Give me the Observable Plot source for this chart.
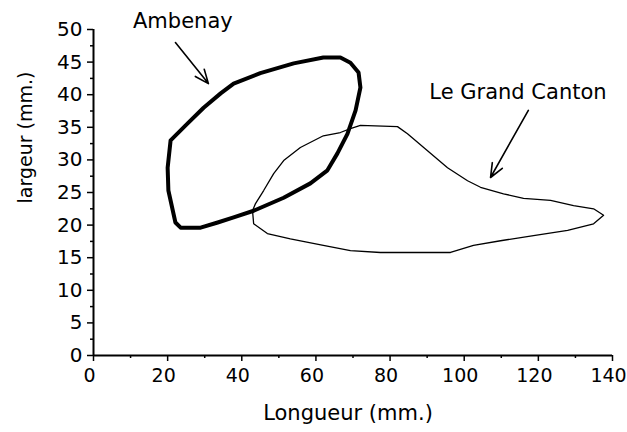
<!DOCTYPE html>
<html>
<head>
<meta charset="utf-8">
<script src="https://cdn.jsdelivr.net/npm/d3@7"></script>
<script src="https://cdn.jsdelivr.net/npm/@observablehq/plot@0.6"></script>
<style>
  html, body { margin: 0; padding: 0; background: #fff; }
</style>
</head>
<body>
<div id="chart"></div>
<script>
// Ambenay outline (Longueur, largeur in mm)
const ambenayX = [20.8, 20.0, 20.2, 22.1, 23.5, 28.9, 33.5, 37.8, 43.2, 51.3, 58.5, 63.1, 65.8, 68.5, 70.7, 72.0, 71.5, 69.3, 66.6, 62.0, 54.0, 45.0, 37.8, 34.3, 29.7, 25.4];
const ambenayY = [33.0, 28.8, 25.3, 20.4, 19.6, 19.6, 20.4, 21.2, 22.2, 24.2, 26.4, 28.4, 31.0, 34.0, 37.6, 41.1, 43.4, 44.9, 45.7, 45.7, 44.8, 43.3, 41.7, 40.2, 38.0, 35.6];

// Le Grand Canton outline
const cantonX = [42.9, 43.2, 46.9, 53.1, 62.0, 69.3, 77.4, 96.3, 102.5, 109.8, 118.7, 127.9, 134.9, 137.6, 134.9, 129.5, 123.3, 116.0, 110.6, 104.4, 100.9, 95.5, 90.1, 84.7, 82.0, 72.0, 69.3, 66.6, 62.0, 55.8, 51.3, 48.6, 45.9, 43.7];
const cantonY = [22.2, 20.2, 18.7, 17.9, 16.9, 16.1, 15.8, 15.8, 16.9, 17.6, 18.4, 19.2, 20.2, 21.5, 22.5, 23.0, 23.8, 24.1, 24.8, 25.8, 26.8, 28.8, 31.4, 34.0, 35.1, 35.3, 34.8, 34.2, 33.7, 31.9, 29.9, 27.9, 25.3, 23.3];

// Annotations
const labelNames = ["Ambenay", "Le Grand Canton"];
const labelX = [24.1, 114.5];
const labelY = [51.3, 40.4];
const arrowX1 = [22.1, 117.3];
const arrowY1 = [48.0, 37.6];
const arrowX2 = [31.0, 107.1];
const arrowY2 = [41.7, 27.3];

// Ticks
const xMajorTicks = [0, 20, 40, 60, 80, 100, 120, 140];
const xMinorTicks = [10, 30, 50, 70, 90, 110, 130];
const yMajorTicks = [0, 5, 10, 15, 20, 25, 30, 35, 40, 45, 50];
const yMinorTicks = [2.5, 7.5, 12.5, 17.5, 22.5, 27.5, 32.5, 37.5, 42.5, 47.5];

const xLabel = "Longueur (mm.)";
const yLabel = "largeur (mm.)";

const ambenay = ambenayX.map((x, i) => ({x, y: ambenayY[i]}));
const canton = cantonX.map((x, i) => ({x, y: cantonY[i]}));
const labels = labelNames.map((name, i) => ({name, x: labelX[i], y: labelY[i]}));
const arrows = arrowX1.map((x1, i) => ({x1, y1: arrowY1[i], x2: arrowX2[i], y2: arrowY2[i]}));

const font = "DejaVu Sans, sans-serif";

const chart = Plot.plot({
  width: 627,
  height: 432,
  marginLeft: 93,
  marginRight: 15,
  marginTop: 29,
  marginBottom: 77,
  style: {fontFamily: font, fontSize: "20px", color: "#000", background: "#fff", overflow: "visible"},
  x: {domain: [0, 140]},
  y: {domain: [0, 50]},
  marks: [
    Plot.axisX({ticks: xMinorTicks, tickSize: 3, tickFormat: () => "", strokeWidth: 1.5}),
    Plot.axisX({ticks: xMajorTicks, tickSize: 6, tickFormat: () => "", strokeWidth: 1.5}),
    Plot.axisX({ticks: xMajorTicks, tickSize: 0, tickPadding: 13, tickFormat: d => String(d), fontSize: 19, dx: -4, label: null}),
    Plot.axisY({ticks: yMinorTicks, tickSize: 3, tickFormat: () => "", strokeWidth: 1.5}),
    Plot.axisY({ticks: yMajorTicks, tickSize: 6, tickPadding: 5, tickFormat: d => String(d), strokeWidth: 1.5, fontSize: 20, label: null}),
    Plot.ruleX([0], {stroke: "#000", strokeWidth: 2}),
    Plot.ruleY([0], {stroke: "#000", strokeWidth: 2}),
    Plot.line(canton, {x: "x", y: "y", curve: "linear-closed", stroke: "#000", strokeWidth: 1.3}),
    Plot.line(ambenay, {x: "x", y: "y", curve: "linear-closed", stroke: "#000", strokeWidth: 4, strokeLinejoin: "round"}),
    Plot.arrow(arrows, {x1: "x1", y1: "y1", x2: "x2", y2: "y2", stroke: "#000", strokeWidth: 1.6, headLength: 14, headAngle: 45}),
    Plot.text(labels, {x: "x", y: "y", text: "name", fontSize: 21, fontFamily: font, fill: "#000"}),
    Plot.text([xLabel], {frameAnchor: "bottom", dx: -5, dy: 64, fontSize: 21, fontFamily: font, fill: "#000"}),
    Plot.text([yLabel], {frameAnchor: "left", rotate: -90, dx: -68, dy: 11, fontSize: 19, fontFamily: font, fill: "#000"})
  ]
});
document.getElementById("chart").appendChild(chart);
</script>
</body>
</html>
